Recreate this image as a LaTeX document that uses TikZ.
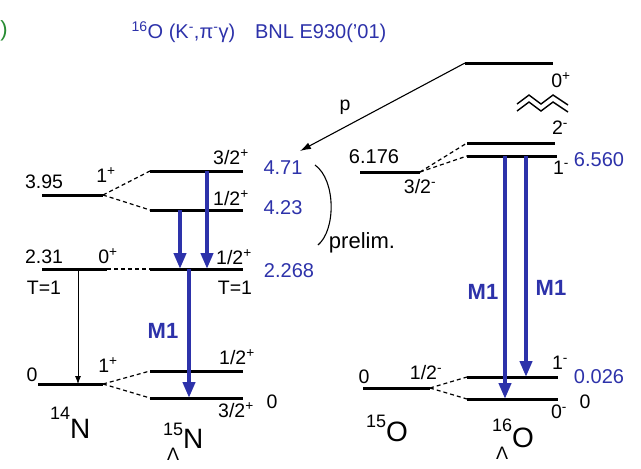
\documentclass[tikz,border=0pt]{standalone}
\usepackage{fontspec}
\setmainfont{Liberation Sans}
\usetikzlibrary{arrows.meta}
\definecolor{lvblue}{RGB}{45,50,170}
\definecolor{lvgreen}{RGB}{40,140,50}
\newcommand{\fsz}[1]{\fontsize{#1}{#1}\selectfont}
% plain nucleus: mass number up left
\newcommand{\isot}[3]{\raisebox{#3}{\fsz{18}#1}#2}
% hypernucleus: mass number up left, Lambda down left
\newcommand{\hyper}[4]{{\fsz{18}\ooalign{\raisebox{#3}{#1}\cr\hfil\raisebox{#4}{\fsz{18}Λ}\hfil\cr}}#2}

\begin{document}
\begin{tikzpicture}[x=1pt, y=-1pt,
    lev/.style={line width=3pt},
    lnk/.style={line width=1.2pt, dash pattern=on 4pt off 3pt},
    gam/.style={lvblue, line width=4pt, -{Triangle[length=16pt, width=12pt]}},
    txt/.style={font=\fsz{19.5}, inner sep=0pt},
    val/.style={font=\fsz{20}, text=lvblue, inner sep=0pt},
    nuc/.style={font=\fsz{28}, inner sep=0pt, anchor=base west}]
    \fill[white] (0,0) rectangle (641,469);
    \useasboundingbox (0,0) rectangle (641,469);

    % Title
    \node[txt, text=lvblue, font=\fsz{20}] (title) at (259,32)
        {\textsuperscript{16}O (K\textsuperscript{-},π\textsuperscript{-}γ)\quad BNL E930('01)};
    \node[txt, text=lvgreen, font=\fsz{22}] (tag) at (4,31) {)};

    % 14N levels
    \coordinate (a395w) at (42,195);  \coordinate (a395e) at (103,195);
    \coordinate (a231w) at (42,269);  \coordinate (a231e) at (107,269);
    \coordinate (a0w) at (38,384);    \coordinate (a0e) at (103,384);
    \draw[lev] (a395w) -- (a395e);
    \draw[lev] (a231w) -- (a231e);
    \draw[lev] (a0w) -- (a0e);

    % 15LN levels
    \coordinate (b471w) at (150,171);  \coordinate (b471e) at (243,171);
    \coordinate (b423w) at (150,210);  \coordinate (b423e) at (243,210);
    \coordinate (b2268w) at (150,269); \coordinate (b2268e) at (243,269);
    \coordinate (b12w) at (150,371);   \coordinate (b12e) at (243,371);
    \coordinate (b32w) at (150,398);   \coordinate (b32e) at (243,398);
    \draw[lev] (b471w) -- (b471e);
    \draw[lev] (b423w) -- (b423e);
    \draw[lev] (b2268w) -- (b2268e);
    \draw[lev] (b12w) -- (b12e);
    \draw[lev] (b32w) -- (b32e);

    % 15O levels
    \coordinate (c6176w) at (360,172); \coordinate (c6176e) at (420,172);
    \coordinate (c0w) at (363,388);    \coordinate (c0e) at (430,388);
    \draw[lev] (c6176w) -- (c6176e);
    \draw[lev] (c0w) -- (c0e);

    % 16LO levels
    \coordinate (d0pw) at (465,63);  \coordinate (d0pe) at (553,63);
    \coordinate (d2mw) at (467,143); \coordinate (d2me) at (555,143);
    \coordinate (d1mw) at (467,156); \coordinate (d1me) at (557,156);
    \coordinate (d1gw) at (467,377); \coordinate (d1ge) at (558,377);
    \coordinate (d0gw) at (467,399); \coordinate (d0ge) at (558,399);
    \draw[lev] (d0pw) -- (d0pe);
    \draw[lev] (d2mw) -- (d2me);
    \draw[lev] (d1mw) -- (d1me);
    \draw[lev] (d1gw) -- (d1ge);
    \draw[lev] (d0gw) -- (d0ge);

    % core doublet splitting
    \draw[lnk] (a395e) -- (b471w);
    \draw[lnk] (a395e) -- (b423w);
    \draw[lnk] (a231e) -- (b2268w);
    \draw[lnk] (a0e) -- (b12w);
    \draw[lnk] (a0e) -- (b32w);
    \draw[lnk] (c6176e) -- (d2mw);
    \draw[lnk] (c6176e) -- (d1mw);
    \draw[lnk] (c0e) -- (d1gw);
    \draw[lnk] (c0e) -- (d0gw);

    % gamma transitions
    \coordinate (g1s) at (207,171); \coordinate (g1t) at (207,269);
    \coordinate (g2s) at (180,210); \coordinate (g2t) at (180,269);
    \coordinate (g3s) at (189,269); \coordinate (g3t) at (189,398);
    \coordinate (g4s) at (505,156); \coordinate (g4t) at (505,399);
    \coordinate (g5s) at (526,156); \coordinate (g5t) at (526,377);
    \draw[gam] (g1s) -- (g1t);
    \draw[gam] (g2s) -- (g2t);
    \draw[gam] (g3s) -- (g3t);
    \draw[gam] (g4s) -- (g4t);
    \draw[gam] (g5s) -- (g5t);
    % 14N transition
    \coordinate (k1s) at (78,269); \coordinate (k1t) at (78,384);
    \draw[line width=0.8pt, -{Latex[length=8pt, width=6pt]}] (k1s) -- (k1t);

    % proton emission
    \coordinate (pt) at (300,151);
    \draw[line width=1.1pt, -{Latex[length=11pt, width=7pt]}] (d0pw) -- (pt);
    \node[txt] (plab) at (345,107) {p};

    % broken energy axis
    \draw[line width=1.4pt, line join=miter] (517,104) -- (529,95) -- (541,104) -- (553,95) -- (568,105);
    \draw[line width=1.4pt, line join=miter] (517,111) -- (529,102) -- (541,111) -- (553,102) -- (568,112);

    % preliminary bracket
    \draw[line width=1.1pt] (315,165) .. controls (336,180) and (336,230) .. (318,245);
    \node[txt, font=\fsz{22}] (prel) at (362,243) {prelim.};

    % 14N labels
    \node[txt] (e395) at (44,182) {3.95};
    \node[txt] (j395) at (106,175) {1\textsuperscript{+}};
    \node[txt] (e231) at (44,257) {2.31};
    \node[txt] (j231) at (108,256) {0\textsuperscript{+}};
    \node[txt] (t231) at (44,288) {T=1};
    \node[txt] (e0a) at (32,375) {0};
    \node[txt] (j0a) at (108,365) {1\textsuperscript{+}};
    \node[nuc] (n14) at (50,438) {\isot{14}{N}{19pt}};

    % 15LN labels
    \node[txt] (j471) at (231,157) {3/2\textsuperscript{+}};
    \node[val] (e471) at (283,168) {4.71};
    \node[txt] (j423) at (231,198) {1/2\textsuperscript{+}};
    \node[val] (e423) at (283,208) {4.23};
    \node[txt] (j2268) at (234,257) {1/2\textsuperscript{+}};
    \node[val] (e2268) at (289,271) {2.268};
    \node[txt] (t2268) at (235,288) {T=1};
    \node[txt] (j12) at (237,357) {1/2\textsuperscript{+}};
    \node[txt] (j32) at (236,410) {3/2\textsuperscript{+}};
    \node[txt] (e32) at (272,402) {0};
    \node[val, font=\bfseries\fsz{22}] (m1a) at (163,331) {M1};
    \node[nuc] (n15) at (163,448) {\hyper{15}{N}{13pt}{-12pt}};

    % 15O labels
    \node[txt, font=\fsz{20}] (e6176) at (374,157) {6.176};
    \node[txt] (j6176) at (420,187) {3/2\textsuperscript{-}};
    \node[txt] (e0c) at (364,377) {0};
    \node[txt] (j0c) at (426,373) {1/2\textsuperscript{-}};
    \node[nuc] (o15) at (366,441) {\isot{15}{O}{14pt}};

    % 16LO labels
    \node[txt] (j0p) at (561,80) {0\textsuperscript{+}};
    \node[txt] (j2m) at (560,128) {2\textsuperscript{-}};
    \node[txt] (j1m) at (561,168) {1\textsuperscript{-}};
    \node[val] (e6560) at (599,160) {6.560};
    \node[txt] (j1g) at (560,363) {1\textsuperscript{-}};
    \node[val] (e026) at (599,377) {0.026};
    \node[txt] (j0g) at (559,412) {0\textsuperscript{-}};
    \node[txt] (e0d) at (585,402) {0};
    \node[val, font=\bfseries\fsz{22}] (m1b) at (483,292) {M1};
    \node[val, font=\bfseries\fsz{22}] (m1c) at (551,288) {M1};
    \node[nuc] (o16) at (492,447) {\hyper{16}{O}{16pt}{-12pt}};
\end{tikzpicture}
\end{document}
